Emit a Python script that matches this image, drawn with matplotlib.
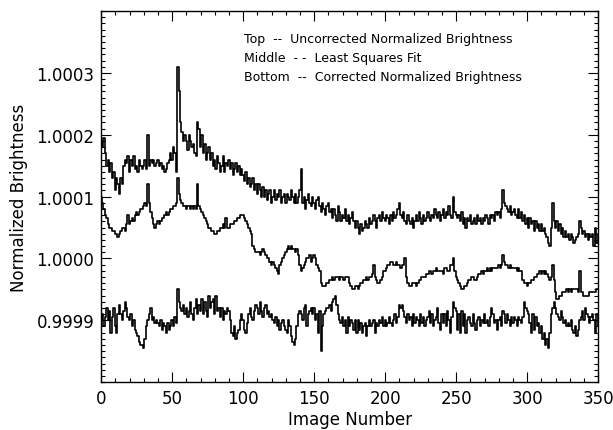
import numpy as np
import matplotlib
matplotlib.use("Agg")
import matplotlib.pyplot as plt
from matplotlib.ticker import MultipleLocator

# brightness offsets from 1.0, in units of 1e-5, one value per image
top_u = [
    19, 18, 19.5, 17, 15, 16, 14, 15.5, 13, 14,
    11, 13, 12, 10.5, 13, 12, 15, 16, 15.5, 16.5,
    14, 16, 15, 16.5, 14.5, 15, 14, 16, 15, 14.5,
    15, 16, 14.5, 20, 15, 16, 15.5, 16, 15, 15.5,
    16, 15, 15.5, 14.5, 15, 14, 14.5, 15.5, 16, 17,
    16, 18, 17, 14, 31, 27, 22, 20.5, 19, 20,
    19, 17.5, 20, 19, 18, 18.5, 17, 16.5, 22, 21,
    18, 20, 17, 18.5, 16, 17, 18, 16, 17, 15,
    16, 14.5, 16.5, 15.5, 14, 15, 16.5, 14, 15.5, 15,
    16, 14.5, 15.5, 13.5, 14.5, 15.5, 14, 15, 13.5, 14.5,
    13.5, 12.5, 14, 12, 13, 11.5, 12, 13, 11, 12,
    10.5, 12, 11, 10, 11.5, 10, 11, 9.5, 10.5, 11,
    9, 10, 11, 9.5, 10.5, 10, 11, 9, 10, 10.5,
    9, 10.5, 10, 9.5, 11, 10, 9, 10.5, 9, 10,
    11, 14.5, 9, 10, 8, 9.5, 10.5, 9, 8.5, 10,
    9, 8, 9.5, 10, 8.5, 7.5, 9, 8, 7, 8.5,
    9, 7.5, 8, 6.5, 8, 7, 6, 8.5, 7.5, 6,
    7, 6.5, 8, 6, 7, 5.5, 6.5, 7.5, 6, 5,
    6, 5, 4, 5.5, 4.5, 5, 6, 5.5, 5, 6.5,
    5.5, 6, 7, 6, 5, 6.5, 7, 6, 7.5, 6.5,
    6, 7, 6.5, 5.5, 7, 6, 7.5, 6.5, 7, 8,
    9, 7, 6.5, 7.5, 6, 5.5, 7, 6, 5.5, 6.5,
    5, 6, 7, 6, 7.5, 6.5, 5.5, 7, 6, 6.5,
    7.5, 6.5, 6, 7, 6.5, 8, 7, 6.5, 7.5, 6,
    7, 8, 6.5, 7.5, 7, 8.5, 7, 6.5, 10, 7.5,
    7, 6.5, 7, 6, 7.5, 5.5, 6.5, 5, 6.5, 6,
    7, 5.5, 6, 6.5, 5.5, 7, 6, 6.5, 5.5, 6.5,
    6, 7, 6.5, 5.5, 7, 6.5, 7, 6, 7.5, 7,
    7.5, 6.5, 8, 11, 9, 8.5, 8, 7.5, 8.5, 7,
    7.5, 8, 7, 6.5, 8, 6.5, 7.5, 6, 7, 5.5,
    6.5, 5, 6.5, 5.5, 6, 4.5, 6, 5, 5.5, 4.5,
    5.5, 4.5, 5, 4, 3.5, 2.5, 2, 5, 9, 6,
    5, 6, 4.5, 5.5, 4, 5, 3.5, 4.5, 3.5, 4,
    3, 4, 3.5, 2.5, 3, 3.5, 4, 6, 5, 4,
    4.5, 3.5, 4, 3, 4, 3.5, 4, 2, 5, 2.5, 4,
]

mid_u = [
    10, 9, 8, 7, 6.5, 5.5, 5, 5, 4.5, 4.5,
    4, 4, 3.5, 4, 4.5, 5, 5, 4.5, 5.5, 7,
    5.5, 6, 6.5, 6, 7, 7.5, 7, 7.5, 8, 8,
    8.5, 9, 8.5, 12, 9, 7.5, 6.5, 5.5, 5, 5.5,
    6, 5.5, 6, 6.5, 6.5, 7, 7.5, 7, 7.5, 8,
    8, 8.5, 8.5, 9, 13, 10.5, 9.5, 9, 8.5, 8.5,
    8, 8.5, 8.5, 8, 8.5, 8, 8.5, 8, 12, 8.5,
    8, 7.5, 7, 6.5, 6, 5.5, 5, 5, 4.5, 4.5,
    4, 4, 4.5, 4.5, 5, 5, 5.5, 5, 6.5, 5,
    5, 5.5, 5.5, 5.5, 6, 6, 6.5, 6.5, 7, 7,
    7, 6.5, 6, 5.5, 5, 4.5, 4, 2, 1.5, 1,
    1, 1, 0.5, 1, 1.5, 1, 0.5, 0, 0, -0.5,
    -1, -0.5, -1, -1.5, -2, -2.5, -1, -0.5, 0, 0.5,
    1, 1.5, 2, 1.5, 2, 1.5, 1.5, 1, 1.5, 0.5,
    -1, -2, -1.5, -1, -0.5, 0, 0, 0.5, -0.5, 0,
    0.5, 0, -1, -1.5, -2, -4, -4.5, -4.5, -4.5, -4,
    -4, -3.5, -3.5, -3, -3.5, -3, -3, -3, -3.5, -3,
    -3, -3.5, -3, -3, -3, -4, -4.5, -5, -5, -4.5,
    -4.5, -5, -4.5, -4, -4, -3.5, -3.5, -3, -3.5, -3,
    -3, -2.5, -1, -3, -3.5, -4, -4, -3.5, -3, -2,
    -2, -1.5, -1, -1, -0.5, -0.5, -1, -1, -0.5, -1,
    -1, -1.5, -1, -1, 0, -3, -4, -4.5, -4.5, -4,
    -4, -4, -4.5, -4, -3.5, -3.5, -3, -3, -3, -2.5,
    -2.5, -2, -2, -2.5, -2, -2, -1.5, -2, -2, -2,
    -2, -2.5, -1.5, -1.5, -2, -2, -1, -1, 0, -2,
    -3, -3.5, -4, -4.5, -5, -5, -4.5, -4.5, -4, -3.5,
    -3.5, -3, -3, -3.5, -3.5, -3, -2.5, -2.5, -2, -2.5,
    -2, -2, -1.5, -2, -1.5, -2, -1.5, -1.5, -1.5, -1.5,
    -1, -1.5, -1, 0.5, -0.5, -1, -1, -1.5, -1, -1.5,
    -1.5, -1.5, -1.5, -2, -1.5, -2, -2, -3.5, -4, -4,
    -4.5, -4, -4, -3.5, -3.5, -3, -3, -2.5, -2.5, -2,
    -2.5, -2, -2.5, -2, -2.5, -3, -3.5, -3, -1, -3.5,
    -5.5, -6.5, -6.5, -6, -6, -5.5, -5.5, -5.5, -5, -5.5,
    -5, -5.5, -5, -5, -5, -5, -5.5, -2, -5.5, -5.5,
    -6, -6, -6, -6, -5.5, -5.5, -5.5, -5.5, -5.5, -5, -5,
]

bot_u = [
    -10, -9, -11, -9.5, -8, -10, -8.5, -12, -9.5, -8,
    -11, -12, -9, -7.5, -9, -10, -8.5, -7, -8, -9.5,
    -10, -9, -11, -10, -11.5, -12, -12.5, -13.5, -14, -14,
    -14.5, -13, -11, -10, -9, -8, -10, -9.5, -10.5, -10,
    -10.5, -11, -10, -11.5, -10.5, -11, -12, -10.5, -11.5, -11,
    -10, -11, -9.5, -10.5, -5, -7, -8, -8.5, -7.5, -9,
    -8, -9.5, -8.5, -7, -9, -10, -8, -6.5, -9, -7.5,
    -8.5, -6.5, -9, -7, -8.5, -9.5, -6, -8, -7, -6.5,
    -9, -6, -8.5, -8, -9.5, -8, -10, -8.5, -9, -8,
    -8.5, -10, -12, -12.5, -11, -13, -12, -11.5, -10, -9,
    -10, -11.5, -12, -10.5, -9, -8, -9.5, -10, -8.5, -7.5,
    -8, -9, -7, -8.5, -9.5, -8, -7.5, -9, -8.5, -9.5,
    -9, -10, -10.5, -9.5, -11, -10, -11.5, -10.5, -10, -11,
    -11.5, -12, -10, -11, -12.5, -13.5, -14, -13, -11, -9,
    -8.5, -9, -10, -8, -7.5, -11, -9, -8.5, -8, -9,
    -8, -10, -9, -12, -8.5, -15, -11, -9, -8.5, -8,
    -8, -7.5, -8.5, -7, -6.5, -6, -7.5, -9, -10, -10.5,
    -9.5, -11, -10, -12, -9.5, -11, -10, -10.5, -11.5, -10,
    -12, -10, -11.5, -10.5, -12, -11, -10.5, -12.5, -11, -10,
    -11, -10.5, -10, -12, -10.5, -11, -10, -10.5, -9.5, -11,
    -10, -11, -10.5, -9.5, -10.5, -11, -10, -9, -10.5, -9.5,
    -7.5, -8, -7.5, -8.5, -9.5, -10.5, -9, -10, -9.5, -11,
    -9, -10.5, -9.5, -10, -11, -9, -10.5, -9.5, -11, -10,
    -9.5, -8.5, -10.5, -9, -11, -10, -9.5, -8, -10.5, -11.5,
    -9, -10.5, -9, -11, -8.5, -10, -12, -9.5, -7, -8,
    -8.5, -11.5, -9, -12, -8.5, -11, -9, -12, -10, -9.5,
    -10.5, -11, -9, -10.5, -11.5, -10, -9.5, -11, -10, -10.5,
    -9, -10.5, -10, -11, -9.5, -8, -9, -10.5, -10, -11.5,
    -10, -9.5, -11, -8.5, -9, -10.5, -9, -10, -11, -9.5,
    -10.5, -9.5, -10, -11, -9.5, -10, -10.5, -9.5, -7, -8,
    -8.5, -9, -10.5, -12, -9, -11.5, -9.5, -11, -10.5, -12,
    -11, -13, -12, -14, -13, -14.5, -12, -9, -8, -7,
    -8, -9, -9.5, -10, -8.5, -9.5, -10.5, -10, -11, -10.5,
    -11, -10, -11.5, -12, -11, -12.5, -11.5, -10, -9.5, -8.5,
    -10, -8, -9, -9.5, -10.5, -9.5, -9, -10, -12, -9, -11,
]

legend_lines = [
    "Top  --  Uncorrected Normalized Brightness",
    "Middle  - -  Least Squares Fit",
    "Bottom  --  Corrected Normalized Brightness",
]

image_number = np.arange(len(top_u))


def to_brightness(u):
    return 1.0 + np.asarray(u) * 1e-5


fig = plt.figure(figsize=(6.13, 4.31), dpi=100)
ax = fig.add_axes([0.165, 0.111, 0.811, 0.861])

for series in (top_u, mid_u, bot_u):
    ax.plot(image_number, to_brightness(series), color="black",
            linewidth=1.2, drawstyle="steps-mid")

ax.set_xlim(0, 350)
ax.set_ylim(0.9998, 1.0004)
ax.xaxis.set_major_locator(MultipleLocator(50))
ax.xaxis.set_minor_locator(MultipleLocator(10))
ax.yaxis.set_minor_locator(MultipleLocator(0.00001))
ax.set_yticks([0.9999, 1.0000, 1.0001, 1.0002, 1.0003])
ax.set_yticklabels(["0.9999", "1.0000", "1.0001", "1.0002", "1.0003"])
ax.tick_params(which="both", direction="in", top=True, right=True,
               labelsize=12, width=0.8)
ax.tick_params(which="major", length=7, pad=5)
ax.tick_params(which="minor", length=3)
for sp in ax.spines.values():
    sp.set_linewidth(1.0)

ax.set_xlabel("Image Number", fontsize=12, labelpad=2)
ax.set_ylabel("Normalized Brightness", fontsize=12, labelpad=6)

for k, line in enumerate(legend_lines):
    ax.text(0.288, 0.927 - k * 0.051, line, transform=ax.transAxes,
            fontsize=9, va="center", ha="left")

fig.savefig("out.png", dpi=100)
